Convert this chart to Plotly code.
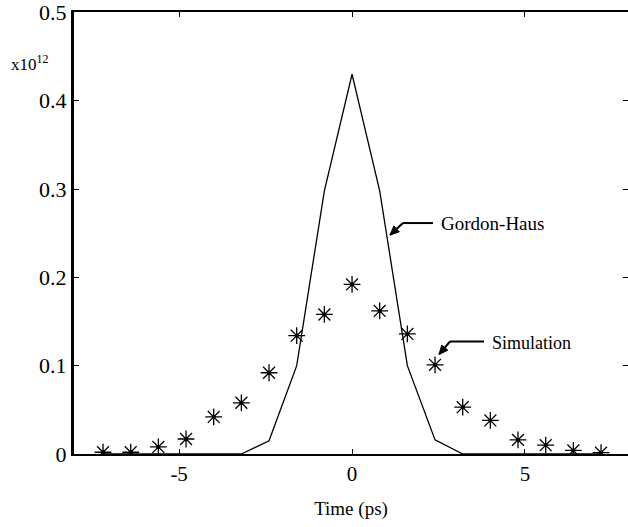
import plotly.graph_objects as go

# Data (values in units of 1e12)
time_ps = [-7.2, -6.4, -5.6, -4.8, -4.0, -3.2, -2.4, -1.6, -0.8, 0.0,
           0.8, 1.6, 2.4, 3.2, 4.0, 4.8, 5.6, 6.4, 7.2]
gordon_haus = [0.0, 0.0, 0.0, 0.0, 0.0, 0.0, 0.015, 0.100, 0.298, 0.430,
               0.298, 0.100, 0.016, 0.0, 0.0, 0.0, 0.0, 0.0, 0.0]
simulation = [0.002, 0.002, 0.008, 0.017, 0.042, 0.058, 0.092, 0.134, 0.158, 0.192,
              0.162, 0.136, 0.101, 0.053, 0.038, 0.016, 0.010, 0.004, 0.0015]
x_ticks = [-5, 0, 5]
x_tick_text = ["-5", "0", "5"]
y_ticks = [0, 0.1, 0.2, 0.3, 0.4, 0.5]
y_tick_text = ["0", "0.1", "0.2", "0.3", "0.4", "0.5"]

SERIF = "Liberation Serif, Times New Roman, serif"

W, H = 628, 527
ML, MR, MT, MB = 74, 0, 10, 73
XR = [-8.04, 7.98]
YR = [0, 0.5005]


def px(xp, yp):
    """convert a pixel position of the figure to data coordinates (for annotation layout)"""
    pw = W - ML - MR
    ph = H - MT - MB
    x = XR[0] + (xp - ML) / pw * (XR[1] - XR[0])
    y = YR[0] + (H - MB - yp) / ph * (YR[1] - YR[0])
    return x, y


fig = go.Figure()
fig.add_trace(go.Scatter(x=time_ps, y=gordon_haus, mode="lines",
                         line=dict(color="black", width=1.3), showlegend=False))
fig.add_trace(go.Scatter(x=time_ps, y=simulation, mode="markers",
                         marker=dict(symbol="asterisk-open", size=14, color="black",
                                     line=dict(color="black", width=1.3)),
                         showlegend=False))
fig.add_trace(go.Scatter(x=time_ps, y=simulation, mode="markers",
                         marker=dict(symbol="circle", size=4, color="black"),
                         showlegend=False))
# invisible trace to activate the right-side tick axis
fig.add_trace(go.Scatter(x=[0], y=[0], yaxis="y2", mode="markers",
                         marker=dict(opacity=0), showlegend=False, hoverinfo="skip"))

fig.update_layout(
    width=W, height=H,
    margin=dict(l=ML, r=MR, t=MT, b=MB),
    paper_bgcolor="white", plot_bgcolor="white",
    font=dict(family=SERIF, color="black", size=20),
    xaxis=dict(range=XR, tickvals=x_ticks, ticktext=x_tick_text,
               ticks="inside", ticklen=5, tickcolor="black",
               showline=True, linecolor="black", linewidth=2, mirror="ticks",
               showgrid=False, zeroline=False, ticklabeloverflow="allow",
               tickfont=dict(size=21, family=SERIF),
               title=dict(text="Time (ps)", font=dict(size=19, family=SERIF), standoff=16)),
    yaxis=dict(range=YR, tickvals=y_ticks, ticktext=y_tick_text,
               ticks="inside", ticklen=5, tickcolor="black",
               showline=True, linecolor="black", linewidth=3,
               showgrid=False, zeroline=False, ticklabeloverflow="allow",
               tickfont=dict(size=22, family=SERIF)),
    yaxis2=dict(range=YR, overlaying="y", side="right", tickvals=y_ticks,
                ticks="inside", ticklen=5, tickcolor="black",
                showticklabels=False, showline=False, showgrid=False, zeroline=False),
)

# multiplier label
fig.add_annotation(xref="paper", yref="paper", x=-0.118, y=0.885, xanchor="left",
                   yanchor="middle", showarrow=False,
                   text="x10<sup>12</sup>", font=dict(size=17, family=SERIF))


def bent_arrow(tip, corner, end):
    for a, b in ((corner, end), (tip, corner)):
        x0, y0 = px(*a)
        x1, y1 = px(*b)
        fig.add_shape(type="line", x0=x0, y0=y0, x1=x1, y1=y1,
                      line=dict(color="black", width=2))
    dx, dy = tip[0] - corner[0], tip[1] - corner[1]
    ln = (dx * dx + dy * dy) ** 0.5
    ux, uy = dx / ln, dy / ln
    hl, hw = 9, 4
    bx, by = tip[0] - hl * ux, tip[1] - hl * uy
    p1 = px(*tip)
    p2 = px(bx + hw * uy, by - hw * ux)
    p3 = px(bx - hw * uy, by + hw * ux)
    path = "M {} {} L {} {} L {} {} Z".format(p1[0], p1[1], p2[0], p2[1], p3[0], p3[1])
    fig.add_shape(type="path", path=path, fillcolor="black",
                  line=dict(color="black", width=1))


# Gordon-Haus label and bent arrow
gx, gy = px(439, 222)
fig.add_annotation(x=gx, y=gy, xanchor="left", yanchor="middle", showarrow=False,
                   text="Gordon-Haus", font=dict(size=19, family=SERIF))
bent_arrow((390, 234), (403, 222), (433, 222))

# Simulation label and bent arrow
sx, sy = px(490, 342)
fig.add_annotation(x=sx, y=sy, xanchor="left", yanchor="middle", showarrow=False,
                   text="Simulation", font=dict(size=18, family=SERIF))
bent_arrow((439, 354), (450, 341), (484, 341))

fig.write_html("out.html")
